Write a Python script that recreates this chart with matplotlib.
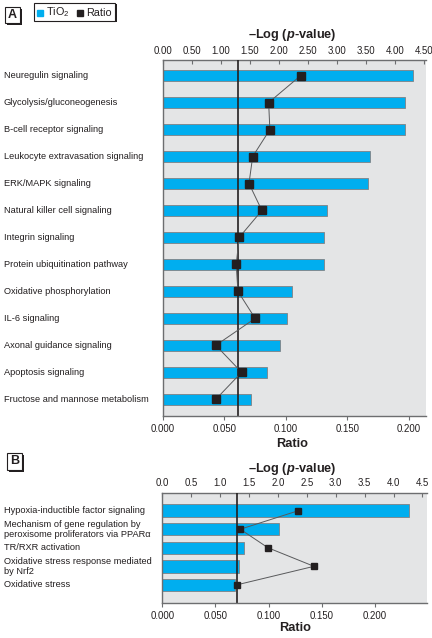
import matplotlib
matplotlib.use("Agg")
import matplotlib.pyplot as plt
from matplotlib.patches import Rectangle
from matplotlib.lines import Line2D
from matplotlib.transforms import blended_transform_factory
from matplotlib import font_manager

# ---------------- data ----------------
cats_a = ["Neuregulin signaling", "Glycolysis/gluconeogenesis", "B-cell receptor signaling",
          "Leukocyte extravasation signaling", "ERK/MAPK signaling", "Natural killer cell signaling",
          "Integrin signaling", "Protein ubiquitination pathway", "Oxidative phosphorylation",
          "IL-6 signaling", "Axonal guidance signaling", "Apoptosis signaling",
          "Fructose and mannose metabolism"]
logp_a = [4.31, 4.18, 4.18, 3.56, 3.53, 2.83, 2.78, 2.78, 2.22, 2.14, 2.01, 1.79, 1.51]
ratio_a = [0.112, 0.086, 0.087, 0.073, 0.070, 0.0805, 0.062, 0.0596, 0.061, 0.075, 0.043, 0.064, 0.043]
top_ticks_a = [0.0, 0.5, 1.0, 1.5, 2.0, 2.5, 3.0, 3.5, 4.0, 4.5]
bot_ticks_a = [0.0, 0.05, 0.10, 0.15, 0.20]

cats_b = ["Hypoxia-inductible factor signaling",
          "Mechanism of gene regulation by\nperoxisome proliferators via PPAR\u03b1",
          "TR/RXR activation",
          "Oxidative stress response mediated\nby Nrf2",
          "Oxidative stress"]
logp_b = [4.26, 2.02, 1.42, 1.32, 1.26]
ratio_b = [0.128, 0.0733, 0.0994, 0.1426, 0.070]
top_ticks_b = [0.0, 0.5, 1.0, 1.5, 2.0, 2.5, 3.0, 3.5, 4.0, 4.5]
bot_ticks_b = [0.0, 0.05, 0.10, 0.15, 0.20]

threshold = 1.3

# ---------------- style ----------------
avail = {f.name for f in font_manager.fontManager.ttflist}
FONT = "Liberation Sans Narrow" if "Liberation Sans Narrow" in avail else "Liberation Sans"
plt.rcParams["font.family"] = [FONT, "DejaVu Sans"]
plt.rcParams["mathtext.fontset"] = "custom"
plt.rcParams["mathtext.rm"] = FONT
plt.rcParams["mathtext.it"] = FONT + ":italic"
plt.rcParams["mathtext.bf"] = FONT + ":bold"
try:
    plt.rcParams["mathtext.bfit"] = FONT + ":bold:italic"
except KeyError:
    pass

CYAN = "#00aeef"
BG = "#e4e5e6"
DARK = "#231f20"
SPINE = "#6d6e70"

W, H = 432, 638
fig = plt.figure(figsize=(W / 100, H / 100), dpi=100)
renderer = fig.canvas.get_renderer()


def fit_size(s, target_px, base=10.0, **kw):
    t = fig.text(0, 0, s, fontsize=base, **kw)
    w = t.get_window_extent(renderer=renderer).width
    t.remove()
    return base * target_px / w


FS = min(fit_size("Fructose and mannose metabolism", 146), 7.8)
TFS = min(fit_size("0.000", 20) * 1.2, 7.5)
TITLE_FS = min(fit_size("\u2013Log ($\\mathbfit{p}$-value)", 88, fontweight="bold"), 10.5)


def fx(x):
    return x / W


def fy(y):
    return 1 - y / H


def panel(rect, cats, logp, ratio, top_ticks, bot_ticks, top_fmt, top_max, bot_max,
          ylim, bar_h, msize):
    l, t, r, b = rect
    ax = fig.add_axes([fx(l), fy(b), fx(r) - fx(l), fy(t) - fy(b)])
    ax.set_facecolor(BG)
    n = len(cats)
    ys = list(range(n))
    ax.barh(ys, logp, height=bar_h, color=CYAN, edgecolor="#808285", linewidth=0.6, zorder=2)
    ax.axvline(threshold, color=DARK, lw=1.2, zorder=3)
    ax.set_xlim(0, top_max)
    ax.set_ylim(*ylim)
    ax.set_yticks([])

    ax2 = ax.twiny()
    ax2.patch.set_visible(False)
    ax2.plot(ratio, ys, color="#58595b", lw=0.7, marker="s", ms=msize,
             mfc=DARK, mec=DARK, zorder=4)
    ax2.set_xlim(0, bot_max)
    ax2.set_ylim(*ylim)

    # top axis: -log(p)
    ax.xaxis.set_ticks_position("top")
    ax.xaxis.set_label_position("top")
    ax.set_xticks(top_ticks)
    ax.set_xticklabels([top_fmt.format(v) for v in top_ticks], fontsize=TFS, color=DARK)
    ax.tick_params(axis="x", direction="in", length=3, color=SPINE, pad=3,
                   top=True, bottom=False, labeltop=True, labelbottom=False)
    for s in ["right", "bottom"]:
        ax.spines[s].set_visible(False)
    for s in ["left", "top"]:
        ax.spines[s].set_color(SPINE)
        ax.spines[s].set_linewidth(1.0)

    # bottom axis: ratio
    ax2.xaxis.set_ticks_position("bottom")
    ax2.xaxis.set_label_position("bottom")
    ax2.set_xticks(bot_ticks)
    ax2.set_xticklabels(["{:.3f}".format(v) for v in bot_ticks], fontsize=TFS, color=DARK)
    ax2.tick_params(axis="x", direction="out", length=3, color=SPINE, pad=3,
                    top=False, bottom=True, labeltop=False, labelbottom=True)
    for s in ["right", "top", "left"]:
        ax2.spines[s].set_visible(False)
    ax2.spines["bottom"].set_color(SPINE)
    ax2.spines["bottom"].set_linewidth(1.0)

    tr = blended_transform_factory(fig.transFigure, ax.transData)
    for y, c in zip(ys, cats):
        ax.text(fx(4), y, c, transform=tr, ha="left", va="center", fontsize=FS,
                linespacing=1.1, color=DARK)
    return ax, ax2


# Panel A
axA, axA2 = panel((163, 60, 426, 416), cats_a, logp_a, ratio_a, top_ticks_a, bot_ticks_a,
                  "{:.2f}", 4.534, 0.2141, (12.62, -0.58), 0.42, 5.5)
# Panel B
axB, axB2 = panel((162.3, 492.5, 426.7, 602.5), cats_b, logp_b, ratio_b, top_ticks_b, bot_ticks_b,
                  "{:.1f}", 4.574, 0.2486, (4.95, -0.98), 0.67, 5.0)

# axis titles
title = "\u2013Log ($\\mathbfit{p}$-value)"
fig.text(fx(292), fy(35), title, ha="center", va="center", fontsize=TITLE_FS, fontweight="bold", color=DARK)
fig.text(fx(292), fy(469), title, ha="center", va="center", fontsize=TITLE_FS, fontweight="bold", color=DARK)
fig.text(fx(292), fy(444), "Ratio", ha="center", va="center", fontsize=TITLE_FS, fontweight="bold", color=DARK)
fig.text(fx(295), fy(628), "Ratio", ha="center", va="center", fontsize=TITLE_FS, fontweight="bold", color=DARK)


def boxed(x0, y0, x1, y1, sh=2.0):
    fig.add_artist(Rectangle((fx(x0 + sh), fy(y1 + sh)), fx(x1 - x0), fy(y0) - fy(y1),
                             transform=fig.transFigure, facecolor=DARK, edgecolor="none"))
    fig.add_artist(Rectangle((fx(x0), fy(y1)), fx(x1 - x0), fy(y0) - fy(y1),
                             transform=fig.transFigure, facecolor="white", edgecolor=DARK, lw=0.8))


# panel letters
boxed(4.5, 7.5, 20, 23)
fig.text(fx(12.3), fy(15.5), "A", ha="center", va="center", fontsize=9, fontweight="bold", color=DARK)
boxed(6.5, 453, 22, 469.5)
fig.text(fx(14.3), fy(461.5), "B", ha="center", va="center", fontsize=9, fontweight="bold", color=DARK)

# legend
boxed(33.5, 3, 115, 20.5, sh=1.5)
fig.add_artist(Line2D([fx(39.5)], [fy(12.5)], transform=fig.transFigure, marker="s", ms=4.5,
                      mfc=CYAN, mec=CYAN, lw=0))
fig.text(fx(46), fy(12.5), "TiO$_2$", ha="left", va="center", fontsize=7.8, color=DARK)
fig.add_artist(Line2D([fx(80)], [fy(12.5)], transform=fig.transFigure, marker="s", ms=4.5,
                      mfc=DARK, mec=DARK, lw=0))
fig.text(fx(86), fy(12.5), "Ratio", ha="left", va="center", fontsize=7.8, color=DARK)

fig.savefig("out.png", dpi=100)
